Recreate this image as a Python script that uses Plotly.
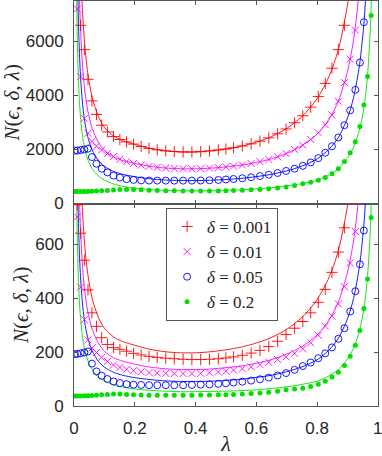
import plotly.graph_objects as go
from plotly.subplots import make_subplots

# lambda grid for the smooth (bound) curves
lam_line = [0.006, 0.008, 0.011, 0.015, 0.02, 0.027, 0.035, 0.045, 0.06, 0.08, 0.1, 0.13, 0.16, 0.2,
            0.25, 0.3, 0.35, 0.4, 0.45, 0.5, 0.55, 0.6, 0.65, 0.7, 0.75, 0.8, 0.84, 0.87, 0.9, 0.92,
            0.94, 0.955, 0.965, 0.975, 0.985]

# lambda grid for the simulated points
lam_pts = [0.003, 0.011, 0.022, 0.034, 0.046, 0.059, 0.074, 0.091, 0.11, 0.13,
           0.151, 0.173, 0.196, 0.221, 0.247, 0.274, 0.302, 0.33, 0.359, 0.388,
           0.417, 0.446, 0.475, 0.5, 0.525, 0.554, 0.583, 0.612, 0.641, 0.67,
           0.698, 0.726, 0.753, 0.779, 0.804, 0.827, 0.849, 0.87, 0.89, 0.909,
           0.926, 0.941, 0.954, 0.966, 0.978, 0.989, 0.997]

deltas = ["0.001", "0.01", "0.05", "0.2"]

# top panel: curves
red_top_line = [None, None, None, None, 9559, 7360, 5927, 4855, 3922, 3230, 2821, 2500, 2330, 2190,
                2040, 1950, 1910, 1910, 1950, 2020, 2120, 2270, 2480, 2780, 3220, 3880, 4720, 5700,
                7350, 9100, None, None, None, None, None]
mag_top_line = [None, None, None, 8956, 6892, 5287, 4242, 3459, 2778, 2272, 1973, 1729, 1596, 1486,
                1379, 1315, 1287, 1285, 1310, 1355, 1421, 1520, 1658, 1856, 2142, 2569, 3132, 3786,
                4889, 6053, 7962, None, None, None, None]
blue_top_line = [None, None, 8775, 6551, 5023, 3835, 3061, 2482, 1977, 1601, 1379, 1189, 1082, 993,
                 915, 870, 850, 847, 861, 889, 931, 995, 1083, 1208, 1386, 1651, 2019, 2445,
                 3166, 3919, 5162, 6786, 8663, None, None]
green_top_line = [10878, 8211, 6030, 4479, 3413, 2584, 2044, 1639, 1287, 1023, 867, 724, 639, 568,
                  516, 487, 474, 470, 475, 488, 509, 542, 587, 650, 735, 860, 1060, 1290,
                  1680, 2080, 2750, 3600, 4600, 6400, 10500]

# top panel: points
red_top_pts = [None, None, 6600, 5700, 4600, 3800, 3300, 2900, 2650, 2480,
               2370, 2280, 2200, 2110, 2040, 1990, 1950, 1925, 1910, 1908,
               1920, 1948, 1985, 2020, 2065, 2130, 2210, 2310, 2430, 2580,
               2760, 2990, 3250, 3570, 3960, 4450, 5010, 5700, 6600, None,
               None, None, None, None, None, None, None]
mag_top_pts = [None, 7200, 4700, 3150, 2600, 2300, 2120, 1980, 1850, 1740,
               1640, 1550, 1480, 1420, 1375, 1340, 1312, 1295, 1287, 1285,
               1290, 1308, 1330, 1355, 1385, 1425, 1482, 1550, 1630, 1730,
               1850, 2000, 2160, 2370, 2620, 2920, 3280, 3786, 4480, 5350,
               6420, None, None, None, None, None, None]
blue_top_pts = [1960, 1960, 1980, 2000, 2030, 1720, 1473, 1290, 1150, 1035,
                960, 905, 875, 855, 850, 848, 848, 847, 847, 848,
                852, 860, 872, 889, 908, 935, 972, 1015, 1065, 1130,
                1205, 1290, 1395, 1520, 1680, 1880, 2120, 2445, 2900, 3450,
                4210, 5219, 6715, None, None, None, None]
green_top_pts = [440, 440, 442, 445, 448, 452, 460, 470, 485, 500,
                 515, 520, 515, 505, 495, 485, 475, 468, 463, 460,
                 459, 460, 465, 470, 478, 490, 505, 522, 545, 575,
                 615, 665, 730, 790, 860, 960, 1100, 1290, 1560, 1880,
                 2290, 2850, 3646, 4700, 6961, None, None]

# bottom panel: curves
red_bot_line = [None, None, None, None, 962, 742, 599, 492, 398, 329, 288, 256, 239, 225,
                210, 201, 197, 197, 201, 208, 218, 233, 254, 284, 328, 394, 478, 576,
                741, 916, None, None, None, None, None]
mag_bot_line = [None, None, None, 902, 695, 535, 430, 352, 284, 233, 203, 179, 166, 155,
                144, 138, 135, 135, 137, 142, 148, 158, 172, 192, 220, 263, 319, 385,
                495, 611, 802, None, None, None, None]
blue_bot_line = [None, None, 884, 661, 508, 390, 312, 254, 204, 166, 144, 125, 114, 105,
                 98, 93, 91, 91, 92, 95, 99, 106, 114, 127, 145, 171, 208, 251,
                 323, 398, 522, 685, 872, None, None]
green_bot_line = [1094, 827, 609, 454, 347, 264, 210, 170, 135, 108, 93, 78, 70, 63,
                  58, 55, 53, 53, 54, 55, 57, 60, 65, 71, 80, 92, 112, 135,
                  174, 214, 281, 366, 466, 646, 1056]

# bottom panel: points
red_bot_pts = [None, 745, 640, 540, 430, 345, 295, 253, 228, 216,
               210, 203, 195, 189, 184, 180, 177, 175, 173, 172,
               172, 173, 175, 178, 182, 188, 196, 206, 220, 240,
               265, 288, 313, 345, 384, 432, 495, 570, 660, None,
               None, None, None, None, None, None, None]
mag_bot_pts = [None, 700, 440, 320, 245, 215, 198, 180, 165, 152,
               143, 136, 131, 127, 124, 122, 121, 120, 120, 120,
               121, 123, 126, 129, 133, 138, 145, 153, 162, 172,
               182, 195, 212, 234, 262, 296, 333, 378, 442, 530,
               646, None, None, None, None, None, None]
blue_bot_pts = [192, 193, 195, 198, 202, 157, 128, 112, 100, 91,
                85, 81, 79, 78, 77, 77, 77, 77, 77, 78,
                79, 80, 82, 84, 87, 90, 94, 99, 105, 113,
                122, 134, 148, 161, 177, 195, 217, 249, 288, 350,
                425, 525, 650, None, None, None, None]
green_bot_pts = [37, 37, 37, 38, 38, 39, 40, 42, 43, 44,
                 44, 43, 42, 41, 40, 40, 40, 40, 40, 40,
                 41, 41, 42, 42, 43, 44, 46, 48, 51, 55,
                 60, 63, 66, 72, 81, 92, 107, 125, 150, 184,
                 225, 280, 361, 470, 698, None, None]

x_ticks = [0, 0.2, 0.4, 0.6, 0.8, 1]
x_ticktext = ["0", "0.2", "0.4", "0.6", "0.8", "1"]
top_ticks = [0, 2000, 4000, 6000]
bot_ticks = [0, 200, 400, 600]

colors = ["#ff0000", "#ff00ff", "#0000ff", "#00e000"]
symbols = ["cross-thin-open", "x-thin-open", "circle-open", "circle"]
sizes = [8, 7, 7, 5]

panels = [
    (1, [red_top_line, mag_top_line, blue_top_line, green_top_line],
     [red_top_pts, mag_top_pts, blue_top_pts, green_top_pts]),
    (2, [red_bot_line, mag_bot_line, blue_bot_line, green_bot_line],
     [red_bot_pts, mag_bot_pts, blue_bot_pts, green_bot_pts]),
]

fig = make_subplots(rows=2, cols=1, shared_xaxes=True, vertical_spacing=0)

for row, lines, pts in panels:
    for i in range(4):
        fig.add_trace(
            go.Scatter(
                x=lam_line, y=lines[i], mode="lines",
                line=dict(color=colors[i], width=0.9, shape="spline", smoothing=0.8),
                showlegend=False, hoverinfo="skip",
            ),
            row=row, col=1,
        )
    for i in range(4):
        mline = dict(color=colors[i], width=0.9) if i < 3 else dict(width=0)
        fig.add_trace(
            go.Scatter(
                x=lam_pts, y=pts[i], mode="markers",
                marker=dict(symbol=symbols[i], size=sizes[i], color=colors[i], line=mline),
                name=f"<i>δ</i> = {deltas[i]}",
                showlegend=(row == 2),
            ),
            row=row, col=1,
        )

axis_style = dict(
    showline=True, mirror="ticks", linecolor="#555555", linewidth=1,
    ticks="inside", ticklen=4, tickcolor="#555555", showgrid=False, zeroline=False,
    tickfont=dict(family="Liberation Sans", size=17, color="#262626"),
    automargin=False, ticklabeloverflow="allow",
)

fig.update_xaxes(range=[0, 1.0005], tickvals=x_ticks, ticktext=x_ticktext, ticklabelstandoff=7, **axis_style)
fig.update_xaxes(showticklabels=False, row=1, col=1)
fig.update_xaxes(
    title=dict(text="<i>λ</i>", font=dict(family="Liberation Serif", size=22, color="#262626"), standoff=13),
    row=2, col=1,
)

ytitle = dict(text="<i>N</i>(<i>ϵ</i>, <i>δ</i>, <i>λ</i>)",
              font=dict(family="Liberation Serif", size=21, color="#262626"), standoff=0)
fig.update_yaxes(range=[0, 7500], tickvals=top_ticks, title=ytitle, ticklabelstandoff=6,
                 **axis_style, row=1, col=1)
fig.update_yaxes(range=[0, 750], tickvals=bot_ticks, title=ytitle, ticklabelstandoff=6,
                 **axis_style, row=2, col=1)

fig.update_layout(
    width=382, height=456,
    margin=dict(l=74, r=4, t=1, b=50),
    paper_bgcolor="white", plot_bgcolor="white",
    legend=dict(
        x=0.303, y=0.489, xanchor="left", yanchor="top",
        bgcolor="white", bordercolor="#555555", borderwidth=1,
        font=dict(family="Liberation Serif", size=17, color="#262626"),
        itemwidth=30, tracegroupgap=0,
    ),
)

# drop the default page margin so the figure sits at the window's corner
fig.write_html("out.html", config={"displayModeBar": False},
               post_script="document.body.style.margin = '0';")
